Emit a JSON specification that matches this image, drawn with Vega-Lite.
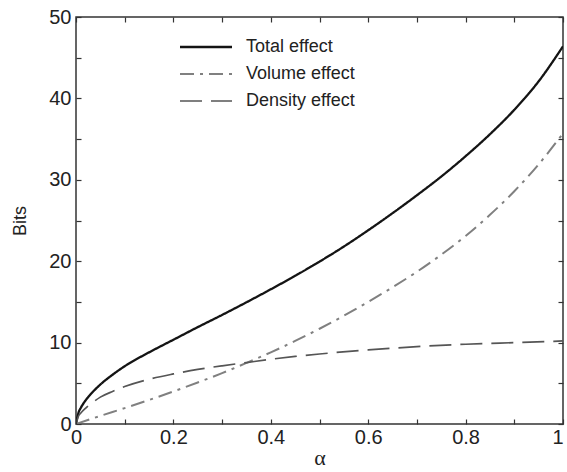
{
  "$schema": "https://vega.github.io/schema/vega-lite/v6.json",
  "width": 487,
  "height": 407,
  "autosize": {"type": "none"},
  "padding": {"left": 76, "top": 17, "right": 4, "bottom": 48},
  "background": "white",
  "config": {
    "view": {"stroke": "#333333", "strokeWidth": 1.5},
    "font": "Liberation Sans",
    "axis": {
      "grid": false,
      "domain": false,
      "ticks": true,
      "tickColor": "#333333",
      "tickWidth": 1.2,
      "tickSize": 5,
      "offset": -5,
      "labelFont": "Liberation Sans",
      "labelFontSize": 20,
      "labelColor": "#222222",
      "titleFont": "Liberation Sans",
      "titleFontWeight": "normal",
      "titleColor": "#222222"
    },
    "legend": {
      "labelFont": "Liberation Sans",
      "labelFontSize": 18,
      "labelColor": "#222222"
    }
  },
  "data": {
    "values": [
      {"a": 0, "bits": 0, "series": "Total effect"},
      {"a": 0.005, "bits": 1.36, "series": "Total effect"},
      {"a": 0.01, "bits": 2.0, "series": "Total effect"},
      {"a": 0.02, "bits": 2.93, "series": "Total effect"},
      {"a": 0.03, "bits": 3.65, "series": "Total effect"},
      {"a": 0.05, "bits": 4.85, "series": "Total effect"},
      {"a": 0.075, "bits": 6.05, "series": "Total effect"},
      {"a": 0.1, "bits": 7.1, "series": "Total effect"},
      {"a": 0.15, "bits": 8.8, "series": "Total effect"},
      {"a": 0.2, "bits": 10.35, "series": "Total effect"},
      {"a": 0.25, "bits": 11.9, "series": "Total effect"},
      {"a": 0.3, "bits": 13.4, "series": "Total effect"},
      {"a": 0.35, "bits": 14.95, "series": "Total effect"},
      {"a": 0.4, "bits": 16.55, "series": "Total effect"},
      {"a": 0.45, "bits": 18.2, "series": "Total effect"},
      {"a": 0.5, "bits": 19.95, "series": "Total effect"},
      {"a": 0.55, "bits": 21.8, "series": "Total effect"},
      {"a": 0.6, "bits": 23.8, "series": "Total effect"},
      {"a": 0.65, "bits": 25.9, "series": "Total effect"},
      {"a": 0.7, "bits": 28.1, "series": "Total effect"},
      {"a": 0.75, "bits": 30.4, "series": "Total effect"},
      {"a": 0.8, "bits": 32.9, "series": "Total effect"},
      {"a": 0.85, "bits": 35.6, "series": "Total effect"},
      {"a": 0.9, "bits": 38.6, "series": "Total effect"},
      {"a": 0.95, "bits": 42.1, "series": "Total effect"},
      {"a": 1.0, "bits": 46.4, "series": "Total effect"},
      {"a": 0, "bits": 0, "series": "Volume effect"},
      {"a": 0.05, "bits": 1.0, "series": "Volume effect"},
      {"a": 0.1, "bits": 1.95, "series": "Volume effect"},
      {"a": 0.15, "bits": 2.95, "series": "Volume effect"},
      {"a": 0.2, "bits": 4.0, "series": "Volume effect"},
      {"a": 0.25, "bits": 5.1, "series": "Volume effect"},
      {"a": 0.3, "bits": 6.25, "series": "Volume effect"},
      {"a": 0.35, "bits": 7.5, "series": "Volume effect"},
      {"a": 0.4, "bits": 8.8, "series": "Volume effect"},
      {"a": 0.45, "bits": 10.2, "series": "Volume effect"},
      {"a": 0.5, "bits": 11.7, "series": "Volume effect"},
      {"a": 0.55, "bits": 13.3, "series": "Volume effect"},
      {"a": 0.6, "bits": 15.0, "series": "Volume effect"},
      {"a": 0.65, "bits": 16.8, "series": "Volume effect"},
      {"a": 0.7, "bits": 18.7, "series": "Volume effect"},
      {"a": 0.75, "bits": 20.8, "series": "Volume effect"},
      {"a": 0.8, "bits": 23.1, "series": "Volume effect"},
      {"a": 0.85, "bits": 25.7, "series": "Volume effect"},
      {"a": 0.9, "bits": 28.6, "series": "Volume effect"},
      {"a": 0.95, "bits": 31.9, "series": "Volume effect"},
      {"a": 1.0, "bits": 35.7, "series": "Volume effect"},
      {"a": 0, "bits": 0, "series": "Density effect"},
      {"a": 0.005, "bits": 0.95, "series": "Density effect"},
      {"a": 0.01, "bits": 1.35, "series": "Density effect"},
      {"a": 0.02, "bits": 1.95, "series": "Density effect"},
      {"a": 0.03, "bits": 2.45, "series": "Density effect"},
      {"a": 0.05, "bits": 3.3, "series": "Density effect"},
      {"a": 0.075, "bits": 4.0, "series": "Density effect"},
      {"a": 0.1, "bits": 4.6, "series": "Density effect"},
      {"a": 0.15, "bits": 5.5, "series": "Density effect"},
      {"a": 0.2, "bits": 6.15, "series": "Density effect"},
      {"a": 0.25, "bits": 6.7, "series": "Density effect"},
      {"a": 0.3, "bits": 7.15, "series": "Density effect"},
      {"a": 0.35, "bits": 7.55, "series": "Density effect"},
      {"a": 0.4, "bits": 7.95, "series": "Density effect"},
      {"a": 0.45, "bits": 8.3, "series": "Density effect"},
      {"a": 0.5, "bits": 8.6, "series": "Density effect"},
      {"a": 0.6, "bits": 9.1, "series": "Density effect"},
      {"a": 0.7, "bits": 9.5, "series": "Density effect"},
      {"a": 0.8, "bits": 9.8, "series": "Density effect"},
      {"a": 0.9, "bits": 10.0, "series": "Density effect"},
      {"a": 1.0, "bits": 10.2, "series": "Density effect"}
    ]
  },
  "layer": [
    {
      "mark": {"type": "line", "interpolate": "monotone", "clip": true},
      "encoding": {
        "x": {
          "field": "a", "type": "quantitative",
          "scale": {"domain": [0, 1], "nice": false},
          "axis": {
            "orient": "bottom",
            "values": [0, 0.1, 0.2, 0.3, 0.4, 0.5, 0.6, 0.7, 0.8, 0.9, 1],
            "format": ".1~f",
            "labelExpr": "round(datum.value*10) % 2 == 0 ? datum.label : ''",
            "labelPadding": 3,
            "labelFlush": false,
            "labelAlign": {"condition": {"test": "datum.value == 1", "value": "right"}, "value": "center"},
            "zindex": 1,
            "title": "α",
            "titleFont": "Liberation Serif",
            "titleFontSize": 22,
            "titlePadding": 0
          }
        },
        "y": {
          "field": "bits", "type": "quantitative",
          "scale": {"domain": [0, 50], "nice": false},
          "axis": {
            "orient": "left",
            "values": [0, 5, 10, 15, 20, 25, 30, 35, 40, 45, 50],
            "labelExpr": "datum.value % 10 == 0 ? datum.label : ''",
            "labelPadding": 5,
            "labelFlush": false,
            "zindex": 1,
            "title": "Bits",
            "titleFontSize": 18,
            "titlePadding": 19
          }
        },
        "color": {
          "field": "series", "type": "nominal",
          "scale": {
            "domain": ["Total effect", "Volume effect", "Density effect"],
            "range": ["#141414", "#808080", "#555555"]
          },
          "legend": {
            "title": null,
            "orient": "none",
            "legendX": 121,
            "legendY": 21,
            "symbolType": "M-5.2,0L5.2,0",
            "symbolSize": 100,
            "symbolStrokeWidth": 2,
            "labelOffset": 31,
            "rowPadding": 9,
            "padding": 0
          }
        },
        "strokeDash": {
          "field": "series", "type": "nominal",
          "scale": {
            "domain": ["Total effect", "Volume effect", "Density effect"],
            "range": [[1, 0], [14, 6, 3, 6], [22, 9]]
          },
          "legend": {
            "title": null,
            "orient": "none",
            "legendX": 121,
            "legendY": 21,
            "symbolType": "M-5.2,0L5.2,0",
            "symbolSize": 100,
            "symbolStrokeWidth": 2,
            "labelOffset": 31,
            "rowPadding": 9,
            "padding": 0
          }
        },
        "strokeWidth": {
          "field": "series", "type": "nominal",
          "scale": {
            "domain": ["Total effect", "Volume effect", "Density effect"],
            "range": [2.3, 1.7, 1.8]
          },
          "legend": null
        }
      }
    },
    {
      "mark": {"type": "line", "opacity": 0},
      "encoding": {
        "x": {
          "field": "a", "type": "quantitative",
          "scale": {"domain": [0, 1], "nice": false},
          "axis": {
            "orient": "top",
            "values": [0, 0.1, 0.2, 0.3, 0.4, 0.5, 0.6, 0.7, 0.8, 0.9, 1],
            "zindex": 1,
            "labels": false,
            "title": null
          }
        },
        "y": {
          "field": "bits", "type": "quantitative",
          "scale": {"domain": [0, 50], "nice": false},
          "axis": {
            "orient": "right",
            "values": [0, 5, 10, 15, 20, 25, 30, 35, 40, 45, 50],
            "zindex": 1,
            "labels": false,
            "title": null
          }
        },
        "detail": {"field": "series", "type": "nominal"}
      }
    }
  ],
  "resolve": {"axis": {"x": "independent", "y": "independent"}}
}
